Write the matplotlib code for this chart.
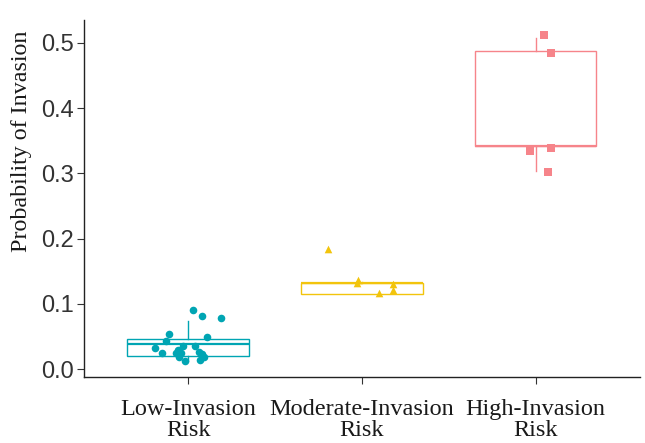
import matplotlib
matplotlib.use('Agg')
import matplotlib.pyplot as plt

# categories and colours
groups = ['Low-Invasion\nRisk', 'Moderate-Invasion\nRisk', 'High-Invasion\nRisk']
colors = ['#00A5B3', '#F2C40C', '#F6848A']
markers = ['o', '^', 's']

# observed points (value, horizontal jitter)
low_vals = [0.090, 0.081, 0.078, 0.054, 0.050, 0.043, 0.036, 0.032, 0.030, 0.035,
            0.024, 0.024, 0.025, 0.026, 0.018, 0.023, 0.018, 0.013, 0.014]
low_jit = [0.03, 0.08, 0.19, -0.11, 0.11, -0.13, -0.03, -0.19, -0.06, 0.04,
           -0.15, -0.07, -0.04, 0.06, -0.05, 0.08, 0.09, -0.02, 0.07]
mod_vals = [0.184, 0.136, 0.132, 0.116, 0.130, 0.121]
mod_jit = [-0.195, -0.02, -0.03, 0.10, 0.18, 0.18]
high_vals = [0.512, 0.484, 0.334, 0.3395, 0.302]
high_jit = [0.05, 0.09, -0.03, 0.09, 0.07]

# box summaries: whislo, q1, med, q3, whishi
low_box = [0.012, 0.020, 0.038, 0.046, 0.074]
mod_box = [0.115, 0.115, 0.132, 0.132, 0.134]
high_box = [0.304, 0.3415, 0.3415, 0.488, 0.507]

vals = [low_vals, mod_vals, high_vals]
jits = [low_jit, mod_jit, high_jit]
boxes = [low_box, mod_box, high_box]

fig = plt.figure(figsize=(6.45, 4.43), dpi=100)
ax = fig.add_axes([0.130, 0.149, 0.862, 0.806])

for i, (b, c) in enumerate(zip(boxes, colors)):
    stats = [dict(whislo=b[0], q1=b[1], med=b[2], q3=b[3], whishi=b[4], fliers=[])]
    ax.bxp(stats, positions=[i], widths=0.7, showcaps=False, patch_artist=True,
           boxprops=dict(facecolor='none', edgecolor=c, linewidth=1.0),
           medianprops=dict(color=c, linewidth=1.6),
           whiskerprops=dict(color=c, linewidth=1.0))

for i in range(3):
    xs = [i + j for j in jits[i]]
    ax.scatter(xs, vals[i], color=colors[i], marker=markers[i], s=30,
               linewidths=0, zorder=3)

ax.set_xlim(-0.6, 2.6)
ax.set_ylim(-0.012, 0.535)
ax.set_xticks(range(3))
ax.set_xticklabels(groups, family='Liberation Serif', fontsize=17.5,
                   color='#1a1a1a', linespacing=1.0)
ax.set_yticks([0.0, 0.1, 0.2, 0.3, 0.4, 0.5])
ax.set_yticklabels(['0.0', '0.1', '0.2', '0.3', '0.4', '0.5'],
                   family='Liberation Sans', fontsize=17, color='#333333')
ax.set_ylabel('Probability of Invasion', family='Liberation Serif',
              fontsize=17.3, color='#1a1a1a')
ax.yaxis.set_label_coords(-0.094, 0.66)
ax.tick_params(axis='both', length=5, width=0.8, color='#333333')
ax.tick_params(axis='x', pad=11)
ax.tick_params(axis='y', pad=2)
for s in ['top', 'right']:
    ax.spines[s].set_visible(False)
for s in ['left', 'bottom']:
    ax.spines[s].set_linewidth(1.0)
    ax.spines[s].set_color('#222222')

fig.savefig('out.png', dpi=100)
